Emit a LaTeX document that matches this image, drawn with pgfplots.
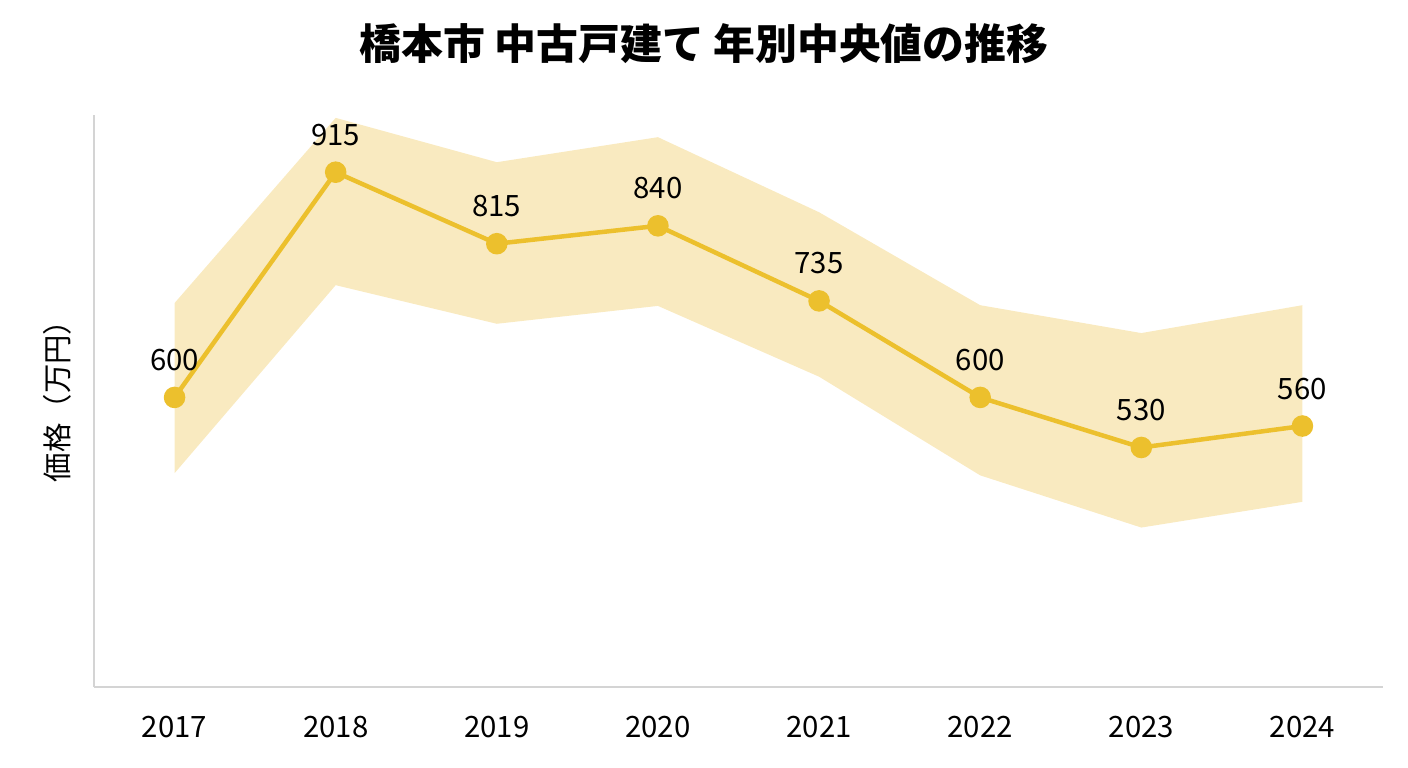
\documentclass[border=0pt]{standalone}
\usepackage{fontspec}
\setmainfont{Noto Sans CJK JP}
\usepackage{pgfplots}
\pgfplotsset{compat=1.18}
\usepgfplotslibrary{fillbetween}
\definecolor{gold}{RGB}{236,192,45}
\definecolor{band}{RGB}{249,234,192}
\definecolor{spine}{RGB}{212,212,212}
\begin{document}
\begin{tikzpicture}
\path (-94bp,-81bp) rectangle (1314bp,687bp);
\begin{axis}[
  at={(0,0)}, anchor=south west,
  scale only axis, width=1289bp, height=572bp,
  xmin=-0.5, xmax=7.5, ymin=195, ymax=995,
  axis x line*=bottom, axis y line*=left,
  axis line style={-, draw=spine, line width=1.5bp},
  xtick={0,1,2,3,4,5,6,7},
  xticklabels={2017,2018,2019,2020,2021,2022,2023,2024},
  ytick=\empty,
  major tick length=0pt,
  xticklabel style={anchor=center, yshift=-40.5bp, font=\fontsize{29.5}{32}\selectfont},
  clip=false,
]
\addplot[name path=up, draw=none, forget plot] coordinates {
(0,732) (1,991) (2,929) (3,964) (4,859) (5,729) (6,690) (7,729)};
\addplot[name path=lo, draw=none, forget plot] coordinates {
(0,494) (1,757) (2,703) (3,728) (4,629) (5,491) (6,418) (7,454)};
\addplot[band, draw=none] fill between[of=up and lo];
\addplot[gold, line width=4.5bp, mark=*, mark size=8.5bp,
  mark options={draw=none, fill=gold},
  nodes near coords, point meta=explicit symbolic,
  nodes near coords style={anchor=center, yshift=37.5bp, text=black, font=\fontsize{29.5}{32}\selectfont}]
coordinates {
(0,600)[600] (1,915)[915] (2,815)[815] (3,840)[840]
(4,735)[735] (5,600)[600] (6,530)[530] (7,560)[560]};
\end{axis}
\node[font=\fontsize{42}{46}\selectfont\bfseries] at (610bp,643bp) {橋本市 中古戸建て 年別中央値の推移};
\node[rotate=90, font=\fontsize{29.5}{32}\selectfont] at (-37bp,293bp) {価格（万円）};
\end{tikzpicture}
\end{document}
